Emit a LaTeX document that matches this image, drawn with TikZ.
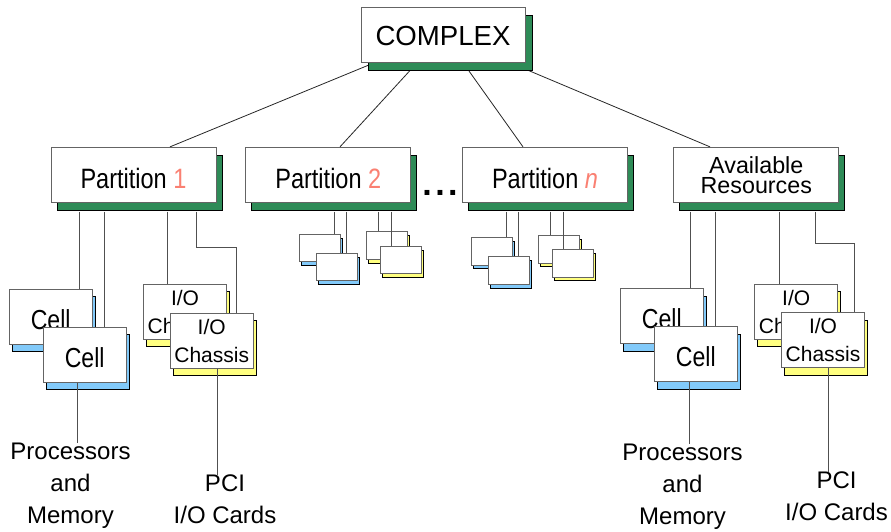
\documentclass[tikz,border=0pt]{standalone}
\usepackage{fontspec}
\setmainfont{Liberation Sans}
\newfontfamily\narrowsans[FakeStretch=0.84]{Liberation Sans}
\usetikzlibrary{shadows}
\pgfdeclarelayer{bg}
\pgfsetlayers{bg,main}

\definecolor{grn}{RGB}{46,139,87}
\definecolor{cellblue}{RGB}{130,202,250}
\definecolor{ioyellow}{RGB}{255,255,128}
\definecolor{numsalmon}{RGB}{250,128,114}
\definecolor{edgegray}{RGB}{100,100,100}
\definecolor{wiregray}{RGB}{80,80,80}

\tikzset{
  box/.style={draw=edgegray, fill=white, line width=0.9pt, inner sep=0pt, align=center},
  topbox/.style={box, minimum width=164pt, minimum height=55pt,
    font=\fontsize{27.6}{30}\selectfont, text height=22pt, text depth=0pt,
    general shadow={shadow xshift=7pt, shadow yshift=-8pt, fill=grn, draw=black}},
  partbox/.style={box, minimum width=165pt, minimum height=55.4pt,
    font=\narrowsans\fontsize{28}{30}\selectfont, text height=26pt, text depth=0pt,
    general shadow={shadow xshift=6pt, shadow yshift=-8pt, fill=grn, draw=black}},
  resbox/.style={box, minimum width=165pt, minimum height=55.4pt,
    font=\fontsize{23.3}{20.5}\selectfont,
    general shadow={shadow xshift=6pt, shadow yshift=-8pt, fill=grn, draw=black}},
  cellbox/.style={box, minimum width=82.7pt, minimum height=55pt,
    font=\narrowsans\fontsize{27.5}{30}\selectfont, text height=25.5pt, text depth=0pt,
    general shadow={shadow xshift=3pt, shadow yshift=-7.5pt, fill=cellblue, draw=black}},
  iobox/.style={box, minimum width=82.7pt, minimum height=55pt,
    font=\fontsize{21}{28}\selectfont,
    general shadow={shadow xshift=3pt, shadow yshift=-7.5pt, fill=ioyellow, draw=black}},
  minicell/.style={box, minimum width=41pt, minimum height=27.5pt,
    general shadow={shadow xshift=2pt, shadow yshift=-3.7pt, fill=cellblue, draw=black}},
  miniio/.style={box, minimum width=41pt, minimum height=27.5pt,
    general shadow={shadow xshift=2pt, shadow yshift=-3.7pt, fill=ioyellow, draw=black}},
  wire/.style={draw=wiregray, line width=0.8pt},
  link/.style={draw=black!85, line width=0.8pt},
  caption/.style={inner sep=0pt, align=center, anchor=north,
    font=\fontsize{24}{32}\selectfont},
}
\newcommand{\num}[1]{{\color{numsalmon}#1}}

\begin{document}
\begin{tikzpicture}[x=1pt, y=-1pt]
\useasboundingbox (0,0) rectangle (891,531);

% top level and partitions
\node[topbox]  (cx) at (443,34.5) {COMPLEX};
\node[partbox] (p1) at (133.5,175) {Partition \num{1}};
\node[partbox] (p2) at (328.3,175) {Partition \num{2}};
\node[partbox] (pn) at (545,175)   {Partition \num{\itshape n}};
\node[resbox]  (ar) at (756.3,175) {Available\\Resources};
\node[inner sep=0pt, anchor=base, font=\fontsize{34}{34}\selectfont\bfseries]
  (dots) at (440,195.5) {.\kern3.5pt.\kern3.5pt.};

% links from the complex to its partitions, kept behind the boxes
\begin{pgfonlayer}{bg}
  \draw[link] (cx.center) -- ([xshift=36.5pt]p1.north);
  \draw[link] (cx.center) -- ([xshift=11.7pt]p2.north);
  \draw[link] (cx.center) -- ([xshift=-22pt]pn.north);
  \draw[link] (cx.center) -- ([xshift=-46.3pt]ar.north);
\end{pgfonlayer}

% partition 1 resources
\node[cellbox] (cl1) at (50.7,316.5)  {Cell};
\node[cellbox] (cl2) at (84.7,354.8)  {Cell};
\node[iobox]   (il1) at (185,311.8)   {I/O\\Chassis};
\node[iobox]   (il2) at (211.7,340.8) {I/O\\Chassis};

% partition 2 resources
\node[minicell] (sc1) at (320,248)     {};
\node[minicell] (sc2) at (337.2,267)   {};
\node[miniio]   (si1) at (387.2,245.5) {};
\node[miniio]   (si2) at (400.5,260)   {};

% partition n resources
\node[minicell] (nc1) at (492.2,251.3) {};
\node[minicell] (nc2) at (508.8,270.5) {};
\node[miniio]   (ni1) at (559.2,249.2) {};
\node[miniio]   (ni2) at (572.8,263.3) {};

% available resources
\node[cellbox] (cr1) at (661.8,316.2) {Cell};
\node[cellbox] (cr2) at (695.8,354.2) {Cell};
\node[iobox]   (ir1) at (796.2,311.7) {I/O\\Chassis};
\node[iobox]   (ir2) at (823,340.2)   {I/O\\Chassis};

% drops from partitions to their resources
\draw[wire] (79,0 |- p1.south) ++(0,8.5) -- (79,0 |- cl1.north);
\draw[wire] (104.3,0 |- p1.south) ++(0,8.5) -- (104.3,0 |- cl2.north);
\draw[wire] (167.7,0 |- p1.south) ++(0,8.5) -- (167.7,0 |- il1.north);
\draw[wire] (196.7,0 |- p1.south) ++(0,8.5) |- (236.3,247.3) -- (236.3,0 |- il2.north);

\draw[wire] (334.3,0 |- p2.south) ++(0,8.5) -- (334.3,0 |- sc1.north);
\draw[wire] (346.7,0 |- p2.south) ++(0,8.5) -- (346.7,0 |- sc2.north);
\draw[wire] (378.7,0 |- p2.south) ++(0,8.5) -- (378.7,0 |- si1.north);
\draw[wire] (391.7,0 |- p2.south) ++(0,8.5) -- (391.7,0 |- si2.north);

\draw[wire] (506.7,0 |- pn.south) ++(0,8.5) -- (506.7,0 |- nc1.north);
\draw[wire] (518.7,0 |- pn.south) ++(0,8.5) -- (518.7,0 |- nc2.north);
\draw[wire] (550.7,0 |- pn.south) ++(0,8.5) -- (550.7,0 |- ni1.north);
\draw[wire] (563.3,0 |- pn.south) ++(0,8.5) -- (563.3,0 |- ni2.north);

\draw[wire] (690.3,0 |- ar.south) ++(0,8.5) -- (690.3,0 |- cr1.north);
\draw[wire] (715.3,0 |- ar.south) ++(0,8.5) -- (715.3,0 |- cr2.north);
\draw[wire] (779.3,0 |- ar.south) ++(0,8.5) -- (779.3,0 |- ir1.north);
\draw[wire] (815,0 |- ar.south) ++(0,8.5) |- (854.3,243.3) -- (854.3,0 |- ir2.north);

% what the cells and chassis hold
\node[caption] (procl) at (70.5,443)   {Processors\\and\\Memory};
\node[caption] (pcil)  at (225,475)    {PCI\\I/O Cards};
\node[caption] (procr) at (682.5,444)  {Processors\\and\\Memory};
\node[caption] (pcir)  at (836.5,471.7) {PCI\\I/O Cards};

\draw[wire] (77.7,0 |- cl2.south) -- (77.7,0 |- procl.north);
\draw[wire] (217.3,0 |- il2.south) -- (217.3,0 |- pcil.north);
\draw[wire] (689,0 |- cr2.south) -- (689,0 |- procr.north);
\draw[wire] (828.7,0 |- ir2.south) -- (828.7,0 |- pcir.north);
\end{tikzpicture}
\end{document}
